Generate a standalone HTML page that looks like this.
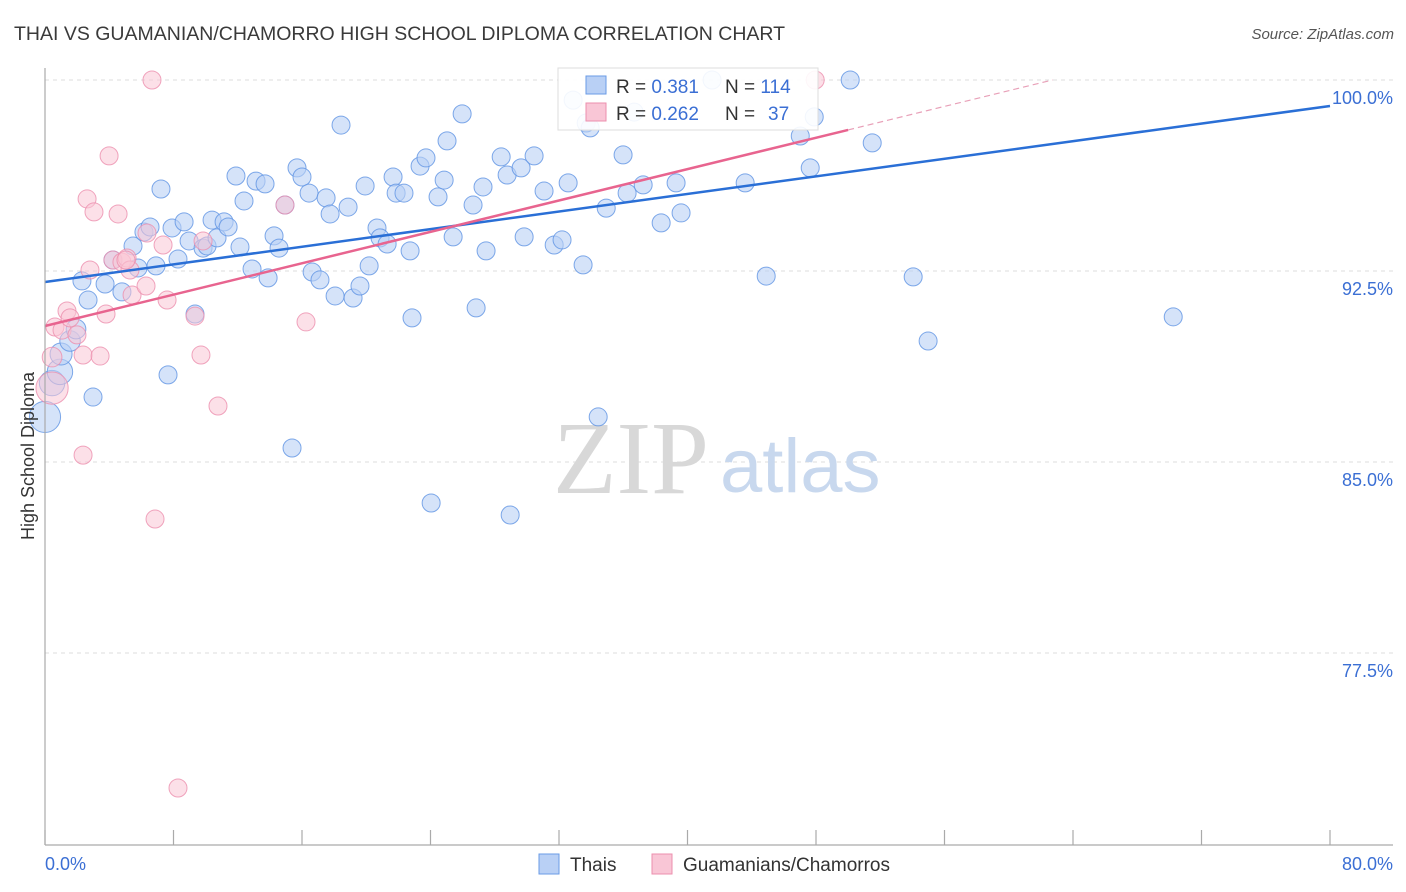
<!DOCTYPE html>
<html><head><meta charset="utf-8"><style>
body{margin:0;background:#fff;font-family:"Liberation Sans",sans-serif;}
svg{display:block}
</style></head><body>
<svg width="1406" height="892" xmlns="http://www.w3.org/2000/svg">
<text x="14" y="40" font-size="19.5" fill="#3a3a3a">THAI VS GUAMANIAN/CHAMORRO HIGH SCHOOL DIPLOMA CORRELATION CHART</text>
<text x="1394" y="39" font-size="15" fill="#555" font-style="italic" text-anchor="end">Source: ZipAtlas.com</text>
<g id="grid"></g>
<g>
<text x="553" y="493" font-size="104" font-family="Liberation Serif,serif" fill="#d8d8d8">ZIP</text>
<text x="720" y="492" font-size="76" fill="#c8d8ee">atlas</text>
</g>
<g id="pts"></g>
<g id="lines"></g>
<line x1="45" y1="68" x2="45" y2="845" stroke="#aaa" stroke-width="1.2"/>
<line x1="45" y1="845" x2="1393" y2="845" stroke="#aaa" stroke-width="1.2"/>
<g id="ticks"></g>
<text x="45" y="870" font-size="18" fill="#3b6fd4">0.0%</text>
<text x="1393" y="870" font-size="18" fill="#3b6fd4" text-anchor="end">80.0%</text>
<text transform="translate(34,456) rotate(-90)" font-size="18" fill="#333" text-anchor="middle">High School Diploma</text>
<g>
<rect x="558" y="68" width="260" height="62" fill="#fff" fill-opacity="0.9" stroke="#ddd"/>
<rect x="586" y="76" width="20" height="18" fill="#b9d0f5" stroke="#6a9be6"/>
<rect x="586" y="103" width="20" height="18" fill="#f9c6d6" stroke="#ec8fae"/>
<text x="616" y="93" font-size="19" fill="#333">R = <tspan fill="#3b6fd4">0.381</tspan><tspan x="725">N = </tspan><tspan fill="#3b6fd4">114</tspan></text>
<text x="616" y="120" font-size="19" fill="#333">R = <tspan fill="#3b6fd4">0.262</tspan><tspan x="725">N = </tspan><tspan x="768" fill="#3b6fd4">37</tspan></text>
</g>
<g>
<rect x="539" y="854" width="20" height="20" fill="#b9d0f5" stroke="#6a9be6"/>
<text x="570" y="871" font-size="19" fill="#333">Thais</text>
<rect x="652" y="854" width="20" height="20" fill="#f9c6d6" stroke="#ec8fae"/>
<text x="683" y="871" font-size="19" fill="#333">Guamanians/Chamorros</text>
</g>
</svg>
<script>
const yTicks=[100,92.5,85,77.5];
const yTickLabels=["100.0%","92.5%","85.0%","77.5%"];
const xTicks=[0,8,16,24,32,40,48,56,64,72,80];
const thaiX=[0,0.44,0.93,1.0,1.56,1.93,2.68,2.3,2.99,3.74,4.23,4.79,5.48,5.79,6.16,6.54,6.91,7.22,7.66,7.91,8.28,8.66,8.97,9.34,9.84,10.09,10.4,10.71,11.15,11.4,11.89,12.14,12.39,12.89,13.14,13.7,13.89,14.26,14.57,14.94,15.38,15.69,16.0,16.44,16.63,17.12,17.5,17.75,18.06,18.43,18.87,19.18,19.61,19.93,20.18,20.67,20.86,21.3,21.67,21.86,22.35,22.73,22.85,23.35,23.72,24.04,24.47,24.85,25.03,25.41,25.97,26.65,26.84,27.27,27.46,28.4,28.77,28.96,29.64,29.83,30.45,31.07,31.7,32.19,32.57,32.88,33.5,33.69,33.94,34.44,34.94,35.99,36.24,36.68,37.24,38.36,39.29,39.6,41.53,43.59,44.9,47.02,47.64,47.89,50.13,51.5,54.05,54.98,70.24];
const thaiY=[86.77,88.1,88.54,89.24,89.75,90.22,91.36,92.11,87.55,91.99,92.93,91.68,93.48,92.62,94.03,94.23,92.7,95.72,88.42,94.19,92.97,94.43,93.68,90.81,93.4,93.48,94.5,93.8,94.43,94.23,96.23,93.44,95.25,92.58,96.03,95.92,92.23,93.88,93.4,95.09,85.55,96.55,96.19,95.56,92.46,92.15,95.37,94.74,91.52,98.23,95.01,91.44,91.91,95.84,92.7,94.19,93.8,93.56,96.19,95.56,95.56,93.29,90.66,96.62,96.94,83.39,95.41,96.07,97.61,93.84,98.67,95.09,91.05,95.8,93.29,96.98,96.27,82.92,96.55,93.84,97.02,95.64,93.52,93.72,95.96,99.21,92.74,98.31,98.12,86.77,94.97,97.06,95.56,98.74,95.88,94.39,95.96,94.78,100,95.96,92.3,97.8,96.55,98.55,100,97.53,92.27,89.75,90.7];
const thaiSize=[3,2,2,1.5,1.3,1.2];
const guamX=[0.44,0.44,0.62,1.06,1.37,1.56,1.99,2.37,2.62,2.8,3.05,3.43,3.8,3.99,4.23,4.55,4.79,5.11,5.29,5.42,6.29,6.35,6.66,6.85,7.35,7.6,8.28,9.34,9.71,9.84,10.77,14.94,16.25,47.95,2.37,5.04];
const guamY=[87.9,89.12,90.3,90.18,90.93,90.66,89.99,89.2,95.33,92.54,94.82,89.16,90.81,97.02,92.93,94.74,92.85,93.01,92.54,91.56,91.91,93.99,100,82.76,93.52,91.36,72.2,90.73,89.2,93.68,87.2,95.09,90.5,100,85.27,92.93];
const guamSize=[3.2,1.2];
const thaiLine=[92.07,98.98];
const guamLine=[90.34,98.04];
const guamSolidEnd=50;

const X=v=>45+v*(1285/80);
const Y=v=>80+(100-v)*(191/7.5);
const NS='http://www.w3.org/2000/svg';
function mk(t,a,p){const e=document.createElementNS(NS,t);for(const k in a)e.setAttribute(k,a[k]);p.appendChild(e);return e;}
const grid=document.getElementById('grid');
yTicks.forEach((v,i)=>{
 const l=mk('line',{x1:45,x2:1393,y1:Y(v),y2:Y(v),stroke:'#ddd','stroke-dasharray':'4 4'},grid);
 
 
 const t=mk('text',{x:1393,y:Y(v)+24,'font-size':18,fill:'#3b6fd4','text-anchor':'end'},grid);
 t.textContent=yTickLabels[i];
 
 
});
const ticks=document.getElementById('ticks');
xTicks.forEach(v=>{
 const l=mk('line',{x1:X(v),x2:X(v),y1:830,y2:845,stroke:'#aaa','stroke-width':1.2},ticks);
 
 
});
const pts=document.getElementById('pts');
thaiX.forEach((x,i)=>{
 const c=mk('circle',{cx:X(x),cy:Y(thaiY[i]),r:9*(thaiSize[i]?Math.sqrt(thaiSize[i]):1),fill:'#b9d0f5','fill-opacity':0.6,stroke:'#5f93e3','stroke-opacity':0.8,'stroke-width':1},pts);
 
 
});
guamX.forEach((x,i)=>{
 const c=mk('circle',{cx:X(x),cy:Y(guamY[i]),r:9*(guamSize[i]?Math.sqrt(guamSize[i]):1),fill:'#f9c6d6','fill-opacity':0.55,stroke:'#ec8fae','stroke-opacity':0.8,'stroke-width':1},pts);
 
 
});
const lines=document.getElementById('lines');
const tl=mk('line',{x1:X(0),y1:Y(thaiLine[0]),x2:X(80),y2:Y(thaiLine[1]),stroke:'#2a6fd6','stroke-width':2.5},lines);


const gs=(guamLine[1]-guamLine[0])/guamSolidEnd;
const gl=mk('line',{x1:X(0),y1:Y(guamLine[0]),x2:X(guamSolidEnd),y2:Y(guamLine[1]),stroke:'#e8648f','stroke-width':2.5},lines);


const xe=(100-guamLine[0])/gs;
const gd=mk('line',{x1:X(guamSolidEnd),y1:Y(guamLine[1]),x2:X(xe),y2:Y(100),stroke:'#e8a0b8','stroke-width':1.2,'stroke-dasharray':'6 4'},lines);


</script>
</body></html>
